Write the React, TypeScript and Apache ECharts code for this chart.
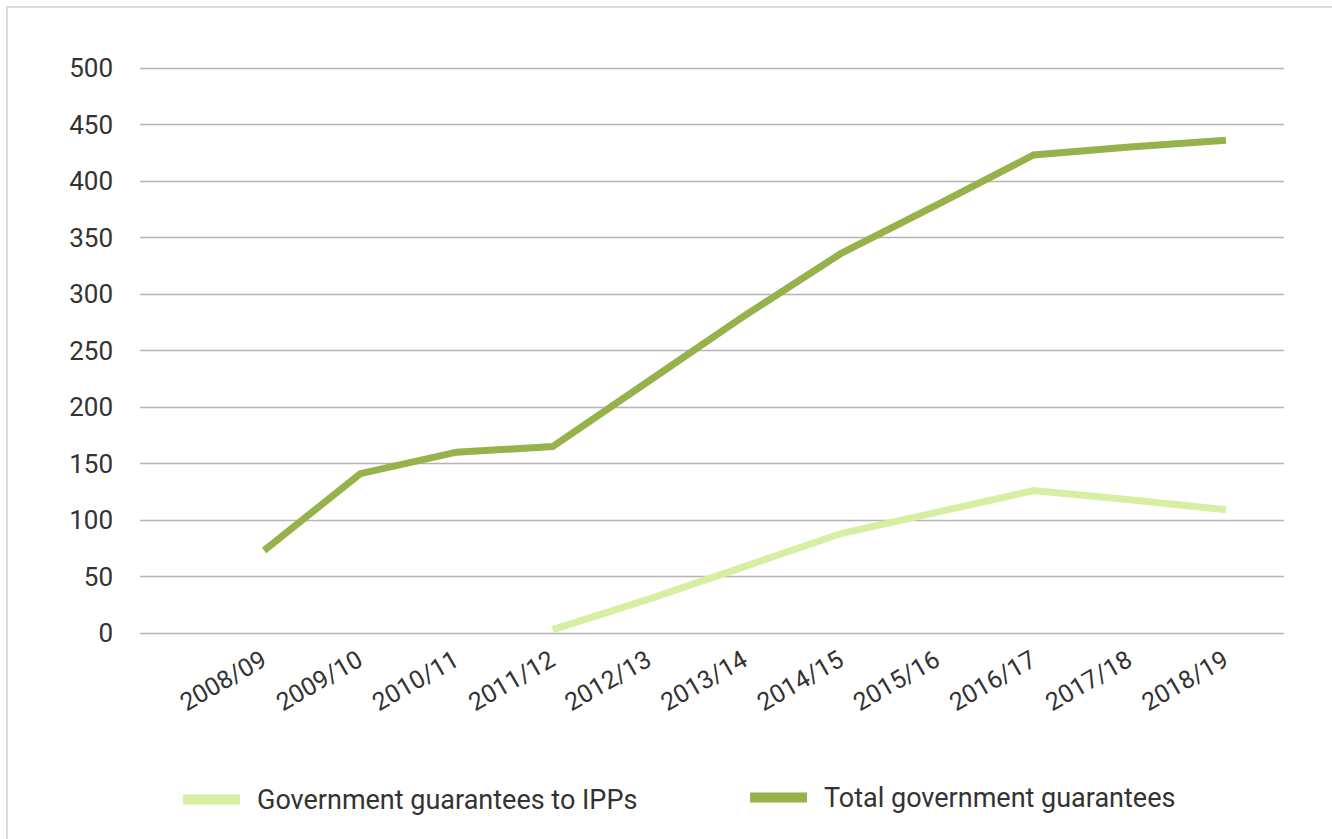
import React, { useEffect, useRef } from "react";
import * as echarts from "echarts";

const categories = [
  "2008/09", "2009/10", "2010/11", "2011/12", "2012/13", "2013/14",
  "2014/15", "2015/16", "2016/17", "2017/18", "2018/19",
];
const ippGuarantees = [null, null, null, 3, 30, 59, 88, 107, 126, 118, 109];
const totalGuarantees = [73, 141, 160, 165, 223, 281, 336, 379, 423, 430, 436];
const yTicks = [0, 50, 100, 150, 200, 250, 300, 350, 400, 450, 500];

const seriesNames = ["Government guarantees to IPPs", "Total government guarantees"];
const LIGHT = "#D6EFA2";
const DARK = "#96B24A";
const FONT = "Roboto, 'Noto Sans', sans-serif";
const TEXT = "#333333";

export default function App() {
  const ref = useRef<HTMLDivElement>(null);
  useEffect(() => {
    if (!ref.current) return;
    const chart = echarts.init(ref.current, null, { renderer: "svg" });
    const yMin = yTicks[0];
    const yMax = yTicks[yTicks.length - 1];
    const yInterval = yTicks[1] - yTicks[0];
    const legendCommon = {
      icon: "rect",
      itemWidth: 57,
      itemHeight: 10,
      padding: 0,
      textStyle: { fontSize: 27, color: TEXT, fontFamily: FONT, padding: [0, 0, 0, 12] },
    };
    chart.setOption({
      animation: false,
      backgroundColor: "#ffffff",
      textStyle: { fontFamily: FONT },
      graphic: [
        {
          type: "rect",
          shape: { x: 7, y: 7, width: 1400, height: 900 },
          style: { fill: "none", stroke: "#d2d2d2", lineWidth: 1.5 },
          silent: true,
        },
      ],
      grid: [
        { left: 140, right: 48, top: 68, bottom: 206 },
        { left: 216, right: 58, top: 68, bottom: 206 },
      ],
      legend: [
        { ...legendCommon, left: 183, top: 786, data: [seriesNames[0]] },
        { ...legendCommon, left: 750, top: 784, data: [seriesNames[1]] },
      ],
      xAxis: [
        {
          type: "category",
          gridIndex: 0,
          data: categories,
          show: false,
        },
        {
          type: "category",
          gridIndex: 1,
          data: categories,
          boundaryGap: true,
          axisLine: { show: false },
          axisTick: { show: false },
          axisLabel: {
            rotate: 30,
            margin: 24,
            fontSize: 25,
            color: TEXT,
            fontFamily: FONT,
            interval: 0,
          },
        },
      ],
      yAxis: [
        {
          type: "value",
          gridIndex: 0,
          min: yMin,
          max: yMax,
          interval: yInterval,
          axisLine: { show: false },
          axisTick: { show: false },
          axisLabel: { fontSize: 26, color: TEXT, margin: 27, fontFamily: FONT },
          splitLine: { lineStyle: { color: "#b4b4b4", width: 1.3 } },
        },
        {
          type: "value",
          gridIndex: 1,
          min: yMin,
          max: yMax,
          interval: yInterval,
          show: false,
          splitLine: { show: false },
        },
      ],
      series: [
        {
          name: seriesNames[0],
          type: "line",
          xAxisIndex: 1,
          yAxisIndex: 1,
          data: ippGuarantees,
          showSymbol: false,
          symbol: "none",
          lineStyle: { color: LIGHT, width: 7, cap: "butt", join: "miter" },
          itemStyle: { color: LIGHT },
        },
        {
          name: seriesNames[1],
          type: "line",
          xAxisIndex: 1,
          yAxisIndex: 1,
          data: totalGuarantees,
          showSymbol: false,
          symbol: "none",
          lineStyle: { color: DARK, width: 7, cap: "butt", join: "miter" },
          itemStyle: { color: DARK },
        },
      ],
    });
    return () => chart.dispose();
  }, []);
  return (
    <div
      ref={ref}
      style={{ position: "fixed", left: 0, top: 0, width: 1332, height: 839 }}
    />
  );
}
